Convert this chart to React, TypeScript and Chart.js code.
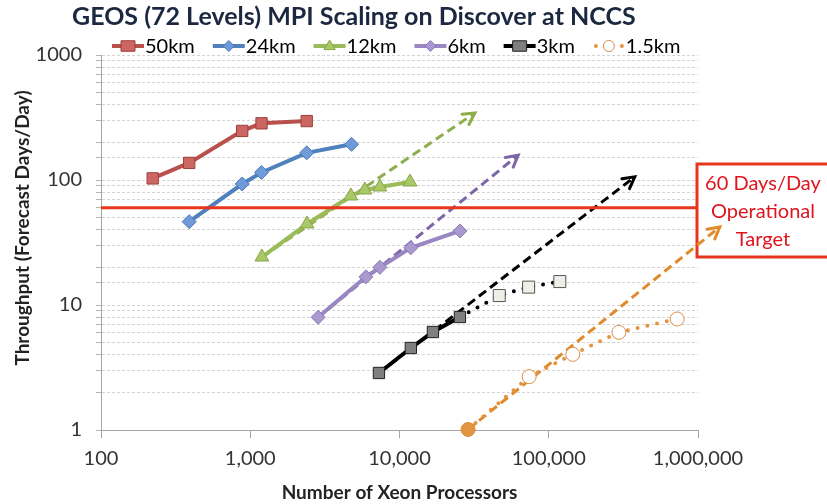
import React, { useEffect, useRef } from "react";
import { Chart, registerables } from "chart.js";

Chart.register(...registerables);

const FONT = "Lato, 'Open Sans', sans-serif";

// ---- Data ----
const titleText = "GEOS (72 Levels) MPI Scaling on Discover at NCCS";
const xAxisTitle = "Number of Xeon Processors";
const yAxisTitle = "Throughput (Forecast Days/Day)";
const xTickValues = [100, 1000, 10000, 100000, 1000000];
const yTickValues = [1, 10, 100, 1000];

const procs50 = [222, 390, 883, 1190, 2390];
const thr50 = [103, 137, 247, 284, 296];

const procs24 = [390, 883, 1190, 2390, 4770];
const thr24 = [46.4, 92.9, 115, 165, 193];

const procs12 = [1197, 2400, 4720, 5860, 7390, 11750];
const thr12 = [24.2, 44.5, 74.5, 83.2, 87.9, 96.4];

const procs6 = [2850, 5960, 7390, 11910, 25400];
const thr6 = [7.97, 16.8, 20.0, 28.7, 39.1];

const procs3 = [7280, 11910, 16740, 25400];
const thr3 = [2.86, 4.53, 6.08, 8.02];

const procs3Proj = [25400, 46600, 73300, 118600];
const thr3Proj = [8.02, 11.9, 13.9, 15.4];

const procs15 = [28800, 73900, 145000, 295000, 725000];
const thr15 = [1.01, 2.67, 4.03, 6.05, 7.73];

// ideal-scaling arrows: [start, end]
const ideal12X = [1197, 32000];
const ideal12Y = [24.2, 344];
const ideal6X = [2850, 62400];
const ideal6Y = [7.97, 158];
const ideal3X = [7280, 377000];
const ideal3Y = [2.86, 106];
const ideal15X = [28800, 1400000];
const ideal15Y = [1.01, 42.1];

const targetValue = 60;
const targetX = [100, 1000000];
const targetLabel = ["60 Days/Day", "Operational", "Target"];

const legendLabels = ["50km", "24km", "12km", "6km", "3km", "1.5km"];

const pts = (xs: number[], ys: number[]) => xs.map((x, i) => ({ x, y: ys[i] }));
const isDecade = (v: number) => Math.abs(Math.log10(v) - Math.round(Math.log10(v))) < 1e-9;

const C = {
  red: "#B9504C", redFill: "#CC6662", redEdge: "#9E3E3A",
  blue: "#4F81BD", blueFill: "#6F9CD8", blueEdge: "#4A78B8",
  green: "#9BBB59", greenFill: "#A9C868", greenEdge: "#88A64A",
  purple: "#9A86C2", purpleFill: "#A999CF", purpleEdge: "#8C78B6",
  purpleDash: "#7C66A6", greenDash: "#8EAD4C",
  black: "#000000", grayFill: "#7F7F7F",
  lightFill: "#EFEFE8", lightEdge: "#555555",
  orange: "#E39440", orangeDash: "#E08A2C", orangeEdge: "#D88E48",
  target: "#E8361E", targetText: "#E0141C",
  title: "#1C2840", axisText: "#333333",
};

function drawMarker(ctx: CanvasRenderingContext2D, style: string, x: number, y: number, r: number) {
  ctx.beginPath();
  if (style === "rect") {
    ctx.rect(x - r, y - r * 0.75, 2 * r, 1.5 * r);
  } else if (style === "rectRot") {
    ctx.moveTo(x, y - r);
    ctx.lineTo(x + r, y);
    ctx.lineTo(x, y + r);
    ctx.lineTo(x - r, y);
    ctx.closePath();
  } else if (style === "triangle") {
    ctx.moveTo(x, y - r);
    ctx.lineTo(x + r * 0.95, y + r * 0.6);
    ctx.lineTo(x - r * 0.95, y + r * 0.6);
    ctx.closePath();
  } else {
    ctx.arc(x, y, r, 0, Math.PI * 2);
  }
  ctx.fill();
  ctx.stroke();
}

// ---- custom plugin: title, legend, y title, target box, arrowheads ----
const decorPlugin = {
  id: "decor",
  beforeDatasetsDraw(chart: any) {
    const ctx = chart.ctx;
    ctx.save();
    const left = chart.chartArea.right - 1;
    const top = 164;
    const bottom = 257;
    ctx.fillStyle = "#ffffff";
    ctx.fillRect(left, top, 200, bottom - top);
    ctx.strokeStyle = C.target;
    ctx.lineWidth = 3;
    ctx.strokeRect(left, top, 200, bottom - top);
    ctx.fillStyle = C.targetText;
    ctx.font = `20px ${FONT}`;
    ctx.textAlign = "center";
    ctx.textBaseline = "middle";
    targetLabel.forEach((t, i) => ctx.fillText(t, 763, 184 + i * 28));
    ctx.restore();
  },
  afterDatasetsDraw(chart: any) {
    const ctx = chart.ctx;
    chart.data.datasets.forEach((ds: any, i: number) => {
      if (!ds.arrowHead) return;
      const meta = chart.getDatasetMeta(i);
      const n = meta.data.length;
      const p1 = meta.data[n - 2];
      const p2 = meta.data[n - 1];
      const ang = Math.atan2(p2.y - p1.y, p2.x - p1.x);
      const L = 13;
      ctx.save();
      ctx.strokeStyle = ds.borderColor;
      ctx.lineWidth = 3;
      ctx.lineCap = "round";
      ctx.beginPath();
      ctx.moveTo(p2.x - L * Math.cos(ang - 0.5), p2.y - L * Math.sin(ang - 0.5));
      ctx.lineTo(p2.x, p2.y);
      ctx.lineTo(p2.x - L * Math.cos(ang + 0.5), p2.y - L * Math.sin(ang + 0.5));
      ctx.stroke();
      ctx.restore();
    });
  },
  afterDraw(chart: any) {
    const ctx = chart.ctx;
    ctx.save();
    // title
    ctx.fillStyle = C.title;
    ctx.font = `bold 25px ${FONT}`;
    ctx.textAlign = "left";
    ctx.textBaseline = "alphabetic";
    ctx.fillText(titleText, 72, 25);

    // y axis title
    ctx.save();
    ctx.translate(23, 228);
    ctx.rotate(-Math.PI / 2);
    ctx.fillStyle = "#222222";
    ctx.font = `bold 19px ${FONT}`;
    ctx.textAlign = "center";
    ctx.textBaseline = "middle";
    ctx.fillText(yAxisTitle, 0, 0);
    ctx.restore();

    // legend
    const y = 46;
    let x = 112;
    ctx.font = `20px ${FONT}`;
    ctx.textBaseline = "middle";
    const sym = [
      { line: C.red, fill: C.redFill, edge: C.redEdge, style: "rect", r: 7 },
      { line: C.blue, fill: C.blueFill, edge: C.blueEdge, style: "rectRot", r: 5.5 },
      { line: C.green, fill: C.greenFill, edge: C.greenEdge, style: "triangle", r: 6 },
      { line: C.purple, fill: C.purpleFill, edge: C.purpleEdge, style: "rectRot", r: 5.5 },
      { line: C.black, fill: C.grayFill, edge: "#222", style: "rect", r: 7 },
      { line: C.orange, fill: "#fff", edge: C.orangeEdge, style: "circle", r: 5.5, dotted: true },
    ];
    legendLabels.forEach((label, i) => {
      const s: any = sym[i];
      const cx = x + 16;
      ctx.save();
      ctx.strokeStyle = s.line;
      ctx.lineWidth = 4;
      if (s.dotted) {
        ctx.fillStyle = s.line;
        [x + 3, x + 29].forEach((dx) => {
          ctx.beginPath();
          ctx.arc(dx, y, 2, 0, Math.PI * 2);
          ctx.fill();
        });
      } else {
        ctx.beginPath();
        ctx.moveTo(x, y);
        ctx.lineTo(x + 32, y);
        ctx.stroke();
      }
      ctx.restore();
      ctx.save();
      ctx.fillStyle = s.fill;
      ctx.strokeStyle = s.edge;
      ctx.lineWidth = 1;
      drawMarker(ctx, s.style, cx, y, s.r);
      ctx.restore();
      ctx.fillStyle = "#000";
      ctx.textAlign = "left";
      ctx.fillText(label, x + 33, y + 1);
      x += 33 + ctx.measureText(label).width + 18;
    });
    ctx.restore();
  },
};

export default function App() {
  const ref = useRef<HTMLCanvasElement | null>(null);

  useEffect(() => {
    document.body.style.margin = "0";
    if (!ref.current) return;

    const solid = (data: any, color: string, fill: string, edge: string, style: string, radius: number) => ({
      data,
      borderColor: color,
      backgroundColor: fill,
      pointBackgroundColor: fill,
      pointBorderColor: edge,
      pointBorderWidth: 1,
      pointStyle: style,
      pointRadius: radius,
      borderWidth: 4,
      showLine: true,
      tension: 0,
    });
    const dashed = (data: any, color: string, clip: any = undefined) => ({
      data,
      borderColor: color,
      borderWidth: 3,
      borderDash: [9, 5],
      pointRadius: 0,
      showLine: true,
      arrowHead: true,
      clip,
    });

    const chart = new Chart(ref.current, {
      type: "scatter",
      data: {
        datasets: [
          {
            data: pts(targetX, [targetValue, targetValue]),
            borderColor: C.target,
            borderWidth: 3,
            pointRadius: 0,
            showLine: true,
          } as any,
          solid(pts(procs50, thr50), C.red, C.redFill, C.redEdge, "rect", 8),
          solid(pts(procs24, thr24), C.blue, C.blueFill, C.blueEdge, "rectRot", 7),
          solid(pts(procs12, thr12), C.green, C.greenFill, C.greenEdge, "triangle", 8),
          solid(pts(procs6, thr6), C.purple, C.purpleFill, C.purpleEdge, "rectRot", 7),
          solid(pts(procs3, thr3), C.black, C.grayFill, "#222222", "rect", 8),
          {
            data: pts(procs3Proj, thr3Proj),
            borderColor: C.black,
            borderWidth: 4,
            borderDash: [0, 10],
            borderCapStyle: "round",
            pointStyle: "rect",
            pointRadius: (c: any) => (c.dataIndex === 0 ? 0 : 8.5),
            pointBackgroundColor: C.lightFill,
            pointBorderColor: C.lightEdge,
            pointBorderWidth: 1,
            showLine: true,
          } as any,
          {
            data: pts(procs15, thr15),
            borderColor: C.orange,
            borderWidth: 4,
            borderDash: [0, 10],
            borderCapStyle: "round",
            pointStyle: "circle",
            pointRadius: 7,
            pointBackgroundColor: (c: any) => (c.dataIndex === 0 ? C.orange : "#ffffff"),
            pointBorderColor: C.orangeEdge,
            pointBorderWidth: 1,
            showLine: true,
            clip: false,
          } as any,
          dashed(pts(ideal12X, ideal12Y), C.greenDash),
          dashed(pts(ideal6X, ideal6Y), C.purpleDash),
          dashed(pts(ideal3X, ideal3Y), C.black),
          dashed(pts(ideal15X, ideal15Y), C.orangeDash, false),
        ] as any,
      },
      options: {
        animation: false,
        responsive: true,
        maintainAspectRatio: false,
        layout: { padding: { top: 55, right: 129, left: 11, bottom: 0 } },
        plugins: {
          legend: { display: false },
          title: { display: false },
          tooltip: { enabled: false },
        },
        scales: {
          x: {
            type: "logarithmic",
            min: 100,
            max: 1000000,
            afterBuildTicks: (scale: any) => {
              scale.ticks = xTickValues.map((v) => ({ value: v }));
            },
            afterFit: (scale: any) => {
              scale.height = 74;
            },
            grid: {
              drawOnChartArea: false,
              drawTicks: true,
              tickLength: 8,
              tickColor: "#A6A6A6",
            },
            border: { display: true, color: "#A6A6A6", width: 1 },
            ticks: {
              autoSkip: false,
              maxRotation: 0,
              padding: 9,
              color: C.axisText,
              font: { family: FONT, size: 20 },
              callback: (v: any) => Number(v).toLocaleString("en-US"),
            },
            title: {
              display: true,
              text: xAxisTitle,
              color: "#222222",
              font: { family: FONT, size: 19, weight: "bold" },
              padding: { top: 0, bottom: 0 },
            },
          },
          y: {
            type: "logarithmic",
            min: 1,
            max: 1000,
            afterFit: (scale: any) => {
              scale.width = 90;
            },
            grid: {
              color: "#D4D4D4",
              lineWidth: 1,
              drawTicks: true,
              tickLength: 5,
              tickColor: "#B4B4B4",
            },
            border: { display: true, color: "#A6A6A6", width: 1, dash: [3, 2] },
            ticks: {
              autoSkip: false,
              padding: 14,
              color: C.axisText,
              font: { family: FONT, size: 20 },
              callback: (v: any) => (isDecade(Number(v)) && yTickValues.includes(Number(v)) ? String(v) : ""),
            },
            title: { display: false },
          },
        },
      } as any,
      plugins: [decorPlugin as any],
    });
    return () => chart.destroy();
  }, []);

  return (
    <div style={{ width: 827, height: 504, position: "relative" }}>
      <canvas ref={ref} />
    </div>
  );
}
